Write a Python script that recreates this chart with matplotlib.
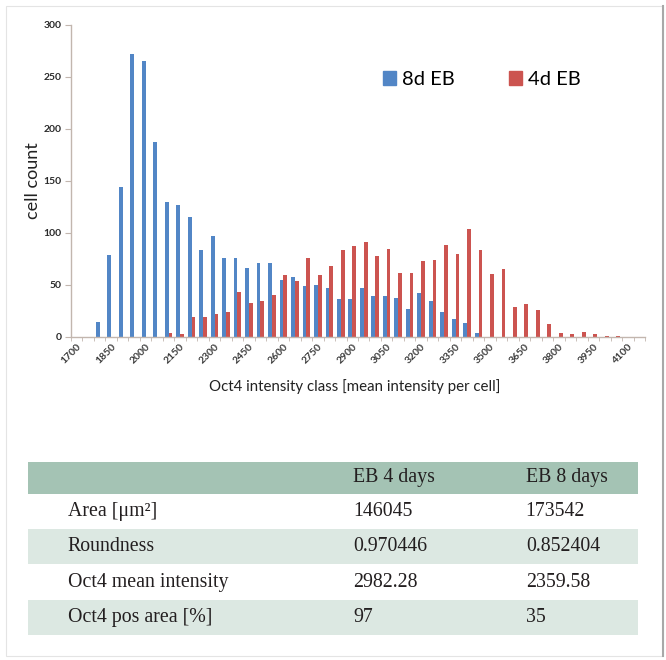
import numpy as np
import matplotlib
matplotlib.use("Agg")
import matplotlib.pyplot as plt
from matplotlib.patches import Patch, Rectangle
from matplotlib.lines import Line2D

plt.rcParams['font.family'] = ['Lato', 'DejaVu Sans']

# intensity classes (mean Oct4 intensity per cell)
classes = [1700, 1750, 1800, 1850, 1900, 1950, 2000, 2050, 2100, 2150,
           2200, 2250, 2300, 2350, 2400, 2450, 2500, 2550, 2600, 2650,
           2700, 2750, 2800, 2850, 2900, 2950, 3000, 3050, 3100, 3150,
           3200, 3250, 3300, 3350, 3400, 3450, 3500, 3550, 3600, 3650,
           3700, 3750, 3800, 3850, 3900, 3950, 4000, 4050, 4100, 4150]

eb8 = [0, 0, 14, 79, 144, 272, 265, 187, 130, 127,
       115, 83, 97, 76, 76, 66, 71, 71, 55, 57,
       49, 50, 47, 36, 36, 47, 39, 39, 37, 27,
       42, 34, 24, 17, 13, 4, 0, 0, 0, 0,
       0, 0, 0, 0, 0, 0, 0, 0, 0, 0]

eb4 = [0, 0, 0, 0, 0, 0, 0, 0, 4, 3,
       19, 19, 22, 24, 43, 32, 34, 40, 59, 54,
       76, 59, 68, 83, 87, 91, 78, 84, 61, 61,
       73, 74, 88, 80, 104, 83, 60, 65, 29, 31,
       26, 12, 4, 3, 5, 3, 1, 0.5, 0, 0]

row_names = ['Area [μm²]', 'Roundness', 'Oct4 mean intensity', 'Oct4 pos area [%]']
col_names = ['EB 4 days', 'EB 8 days']
vals_4d = ['146045', '0.970446', '2982.28', '97']
vals_8d = ['173542', '0.852404', '2359.58', '35']

BLUE = '#5286c6'
RED = '#cc5450'
AXC = '#c2b6ae'

fig = plt.figure(figsize=(6.66, 6.6), dpi=100)
ax = fig.add_axes([71/666, 1-336.7/660, 574/666, 311.7/660])

x = np.arange(len(classes))
w = 0.33
ax.bar(x - w/2, eb8, width=w, color=BLUE, label='8d EB')
ax.bar(x + w/2, eb4, width=w, color=RED, label='4d EB')

ax.set_xlim(-0.5, len(classes) - 0.5)
ax.set_ylim(0, 300)
ax.set_yticks(range(0, 301, 50))
for s in ['top', 'right']:
    ax.spines[s].set_visible(False)
for s in ['left', 'bottom']:
    ax.spines[s].set_color(AXC)
    ax.spines[s].set_linewidth(1.0)
ax.tick_params(axis='y', length=4, color=AXC, pad=3, labelsize=7.5, labelcolor='#2a2a2a')
for t in ax.get_yticklabels():
    t.set_fontweight('bold')

ax.set_xticks(x[::3])
ax.set_xticklabels([str(c) for c in classes[::3]], rotation=45, ha='right',
                   rotation_mode='anchor', fontsize=7.5, fontweight='bold', color='#3a3a3a')
ax.tick_params(axis='x', length=0, pad=4)
ax.set_xticks(np.arange(-0.5, len(classes), 1), minor=True)
ax.tick_params(axis='x', which='minor', length=3, color=AXC)

ax.set_ylabel('cell count', fontsize=13, color='#222222')
ax.yaxis.set_label_coords(-0.053, 0.5)
ax.set_xlabel('Oct4 intensity class [mean intensity per cell]', fontsize=10.8, color='#222222')
ax.xaxis.set_label_coords(0.495, -0.135)

handles = [Patch(color=BLUE, label='8d EB'), Patch(color=RED, label='4d EB')]
ax.legend(handles=handles, loc='upper left', bbox_to_anchor=(383/666, 1-71/660),
          bbox_transform=fig.transFigure, ncol=2, frameon=False, fontsize=14.5,
          handlelength=0.65, handleheight=0.65, handletextpad=0.3,
          columnspacing=2.7, borderpad=0, borderaxespad=0)

# table below the chart
ax_t = fig.add_axes([28/666, 1-635/660, 610/666, 173/660])
ax_t.axis('off')
ax_t.set_xlim(0, 1)
n = len(row_names)
ax_t.set_ylim(n + 0.9, 0)
col_x = [0.065, 0.533, 0.816]
ax_t.add_patch(Rectangle((0, 0), 1, 0.9, color='#a4c3b4', lw=0))
for j, name in enumerate(col_names):
    ax_t.text(col_x[j + 1], 0.45, name, va='center', ha='left',
              family='Liberation Serif', fontsize=14.3, color='#231f20')
for i in range(n):
    y0 = 0.9 + i
    if i % 2 == 1:
        ax_t.add_patch(Rectangle((0, y0), 1, 1, color='#dce8e2', lw=0))
    for xx, txt in zip(col_x, [row_names[i], vals_4d[i], vals_8d[i]]):
        ax_t.text(xx, y0 + 0.5, txt, va='center', ha='left',
                  family='Liberation Serif', fontsize=14.3, color='#231f20')

# faint frame around the figure
fig.add_artist(Rectangle((6/666, 4/660), 657/666, 650/660, transform=fig.transFigure,
                         fill=False, ec='#e4e4e4', lw=0.8))
fig.add_artist(Line2D([663/666, 663/666], [4/660, 654/660], transform=fig.transFigure,
                      color='#a8a8a8', lw=1.5))

fig.savefig('out.png', dpi=100)
